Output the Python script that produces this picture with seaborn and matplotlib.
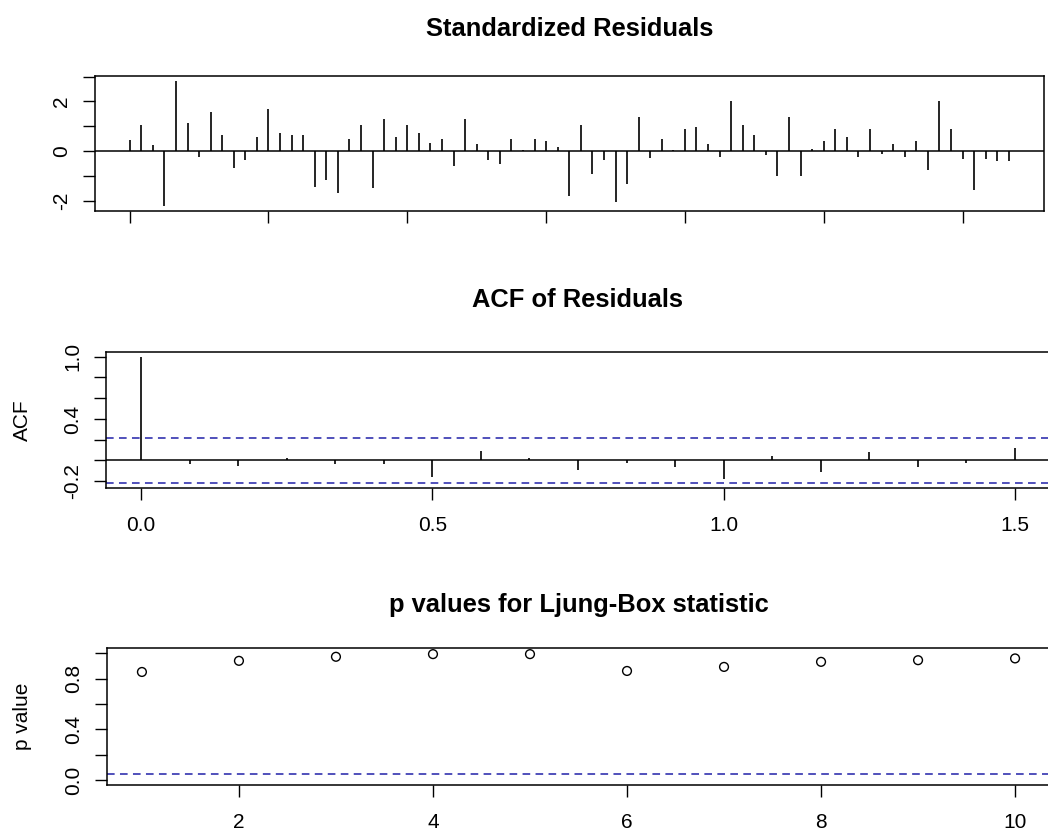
import numpy as np
import pandas as pd
import matplotlib
matplotlib.use("Agg")
import matplotlib.pyplot as plt
import seaborn as sns

# standardized residuals (monthly, 77 obs)
resid = [0.43, 1.05, 0.24, -2.22, 2.82, 1.14, -0.23, 1.55, 0.66, -0.70, -0.38, 0.58,
         1.71, 0.74, 0.66, 0.66, -1.44, -1.18, -1.68, 0.50, 1.06, -1.50, 1.30, 0.58,
         1.06, 0.74, 0.34, 0.50, -0.60, 1.30, 0.26, -0.38, -0.54, 0.50, 0.02, 0.50,
         0.42, 0.17, -1.81, 1.06, -0.94, -0.36, -2.06, -1.34, 1.38, -0.30, 0.50, 0.02,
         0.90, 0.98, 0.26, -0.23, 2.03, 1.06, 0.66, -0.15, -1.01, 1.38, -1.01, 0.09,
         0.42, 0.90, 0.58, -0.23, 0.90, -0.13, 0.26, -0.23, 0.42, -0.78, 2.03, 0.90,
         -0.31, -1.57, -0.31, -0.39, -0.39]

# ACF of residuals, lags 0..18 (in years, freq 12)
acf_vals = [1.0, -0.03, -0.05, 0.026, -0.03, -0.03, -0.16, 0.088, 0.02, -0.088,
            -0.026, -0.065, -0.18, 0.045, -0.107, 0.085, -0.065, -0.026, 0.124]
acf_clim = 0.22

# Ljung-Box p values, lags 1..10
lb_lags = [1, 2, 3, 4, 5, 6, 7, 8, 9, 10]
lb_pvals = [0.853, 0.941, 0.973, 0.994, 0.994, 0.861, 0.893, 0.933, 0.946, 0.960]

sns.set_style("ticks")
plt.rcParams["font.family"] = ["Liberation Sans", "DejaVu Sans"]
plt.rcParams["text.color"] = "black"
plt.rcParams["axes.labelcolor"] = "black"
plt.rcParams["axes.edgecolor"] = "black"
plt.rcParams["xtick.color"] = "black"
plt.rcParams["ytick.color"] = "black"
plt.rcParams["axes.linewidth"] = 1.1
plt.rcParams["xtick.major.size"] = 8.6
plt.rcParams["ytick.major.size"] = 8.6
plt.rcParams["xtick.major.width"] = 1.0
plt.rcParams["ytick.major.width"] = 1.0
plt.rcParams["xtick.direction"] = "out"
plt.rcParams["ytick.direction"] = "out"

W, H = 1048, 832
fig = plt.figure(figsize=(W / 100, H / 100), dpi=100)


def box(l, r, t, b):
    return [l / W, 1 - b / H, (r - l) / W, (b - t) / H]


ax1 = fig.add_axes(box(94.5, 1044, 76, 211))
ax2 = fig.add_axes(box(106, 1050, 351.7, 488.3))
ax3 = fig.add_axes(box(107, 1050, 648.3, 785))

dash_col = "#2020a8"
title_kw = dict(fontsize=18.4, fontweight="bold", color="black")
tick_fs = 15


def rlim(lo, hi):
    d = (hi - lo) * 0.04
    return lo - d, hi + d


# --- standardized residuals
df_r = pd.DataFrame({"t": np.arange(len(resid)), "r": resid})
ax1.vlines(df_r["t"], 0, df_r["r"], color="black", lw=1.2)
ax1.axhline(0, color="black", lw=1.1)
ax1.set_xlim(*rlim(0, len(resid) - 1))
ax1.set_ylim(*rlim(min(resid), max(resid)))
ax1.set_xticks(np.arange(0, len(resid), 12))
ax1.set_xticklabels([])
ax1.set_yticks([-2, -1, 0, 1, 2, 3])
ax1.set_yticklabels(["-2", "", "0", "", "2", ""])
ax1.set_title("Standardized Residuals", pad=29, **title_kw)

# --- ACF
lags = np.arange(len(acf_vals)) / 12
ax2.vlines(lags, 0, acf_vals, color="black", lw=1.2)
ax2.axhline(0, color="black", lw=1.1)
for c in (acf_clim, -acf_clim):
    ax2.axhline(c, color=dash_col, lw=1.1, ls=(0, (5, 3.5)))
ax2.set_xlim(*rlim(0, lags[-1]))
ax2.set_ylim(*rlim(-acf_clim, 1.0))
ax2.set_xticks([0.0, 0.5, 1.0, 1.5])
ax2.set_xticklabels(["0.0", "0.5", "1.0", "1.5"])
ax2.set_yticks([-0.2, 0.0, 0.2, 0.4, 0.6, 0.8, 1.0])
ax2.set_yticklabels(["-0.2", "", "", "0.4", "", "", "1.0"])
ax2.set_ylabel("ACF", fontsize=tick_fs)
ax2.yaxis.set_label_coords(-0.078, 0.5)
ax2.set_title("ACF of Residuals", pad=32.4, **title_kw)

# --- Ljung-Box p values
df_p = pd.DataFrame({"lag": lb_lags, "p": lb_pvals})
sns.scatterplot(data=df_p, x="lag", y="p", ax=ax3, marker="o", s=40,
                facecolor="none", edgecolor="black", linewidth=1.0)
ax3.axhline(0.05, color=dash_col, lw=1.1, ls=(0, (5, 3.5)))
ax3.set_xlim(*rlim(1, 10))
ax3.set_ylim(*rlim(0, 1))
ax3.set_xticks([2, 4, 6, 8, 10])
ax3.set_yticks([0.0, 0.2, 0.4, 0.6, 0.8, 1.0])
ax3.set_yticklabels(["0.0", "", "0.4", "", "0.8", ""])
ax3.set_xlabel("")
ax3.set_ylabel("p value", fontsize=tick_fs)
ax3.yaxis.set_label_coords(-0.080, 0.5)
ax3.set_title("p values for Ljung-Box statistic", pad=26.4, **title_kw)

for ax in (ax1, ax2, ax3):
    for s in ax.spines.values():
        s.set_visible(True)
        s.set_color("black")
    ax.tick_params(axis="x", labelsize=tick_fs, pad=11.6)
    ax.tick_params(axis="y", labelsize=tick_fs, pad=8.5, labelrotation=90)
    plt.setp(ax.get_yticklabels(), va="center")

fig.savefig("out.png", dpi=100)
